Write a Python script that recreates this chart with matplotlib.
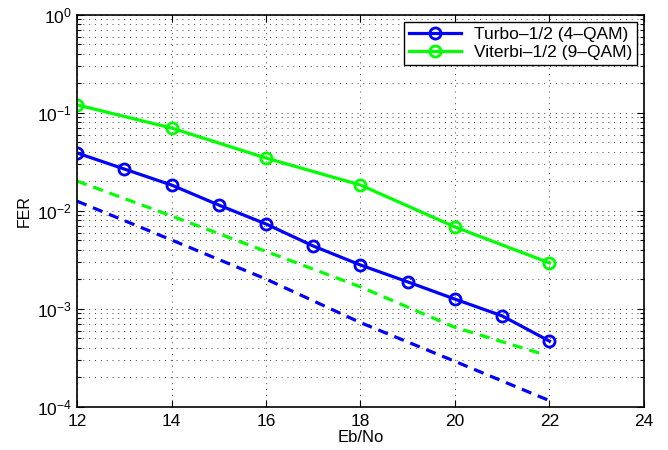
import matplotlib
matplotlib.use("Agg")
import matplotlib.pyplot as plt
from matplotlib.ticker import LogLocator, NullFormatter, FixedLocator

plt.rcParams['font.family'] = ['Liberation Sans', 'DejaVu Sans']
plt.rcParams['mathtext.fontset'] = 'custom'
plt.rcParams['mathtext.rm'] = 'Liberation Sans'

# Data
turbo_x = [12, 13, 14, 15, 16, 17, 18, 19, 20, 21, 22]
turbo_fer = [0.0391, 0.0268, 0.0184, 0.0115, 0.00737, 0.00439, 0.00281,
             0.00189, 0.00126, 0.00085, 0.00047]
viterbi_x = [12, 14, 16, 18, 20, 22]
viterbi_fer = [0.121, 0.0703, 0.0347, 0.0184, 0.00687, 0.00295]
turbo_bound_x = [12, 14, 16, 18, 20, 22]
turbo_bound = [0.0126, 0.00506, 0.00202, 0.000726, 0.000292, 0.000116]
viterbi_bound_x = [12, 14, 16, 18, 20, 21.85]
viterbi_bound = [0.0202, 0.0089, 0.00387, 0.00168, 0.00065, 0.000347]
x_ticks = [12, 14, 16, 18, 20, 22, 24]
labels = ['Turbo\u20131/2 (4\u2013QAM)', 'Viterbi\u20131/2 (9\u2013QAM)']

fig = plt.figure(figsize=(6.68, 4.5), dpi=100)
ax = fig.add_axes([0.1153, 0.0956, 0.8487, 0.8711])

lw = 2.3
ax.semilogy(turbo_x, turbo_fer, '-o', color=(0, 0, 1), lw=lw, ms=8,
            mfc='none', mew=2, label=labels[0])
ax.semilogy(viterbi_x, viterbi_fer, '-o', color=(0, 1, 0), lw=lw, ms=8,
            mfc='none', mew=2, label=labels[1])
ax.semilogy(turbo_bound_x, turbo_bound, '--', color=(0, 0, 1), lw=lw,
            dashes=(3.2, 2.2))
ax.semilogy(viterbi_bound_x, viterbi_bound, '--', color=(0, 1, 0), lw=lw,
            dashes=(3.2, 2.2))

ax.set_xlim(12, 24)
ax.set_ylim(1e-4, 1)
ax.xaxis.set_major_locator(FixedLocator(x_ticks))
ax.set_xticklabels([str(t) for t in x_ticks])
ax.yaxis.set_major_locator(LogLocator(base=10, numticks=10))
ax.yaxis.set_minor_locator(LogLocator(base=10, subs=range(2, 10), numticks=10))
ax.yaxis.set_minor_formatter(NullFormatter())

gstyle = dict(linestyle=(0, (1, 5)), color='#444444', lw=0.7)
ax.grid(True, which='major', axis='both', **gstyle)
ax.grid(True, which='minor', axis='y', **gstyle)

ax.tick_params(which='both', direction='in', top=True, right=True, labelsize=12.5)
ax.tick_params(which='major', length=5, width=0.8)
ax.tick_params(which='minor', length=3, width=0.8)
ax.tick_params(axis='x', pad=5)
for s in ax.spines.values():
    s.set_linewidth(1.2)

ax.set_xlabel('Eb/No', fontsize=12, labelpad=1)
ax.set_ylabel('FER', fontsize=11.5, labelpad=4)

leg = ax.legend(loc='upper right', fontsize=12.5, fancybox=False, framealpha=1,
                edgecolor='black', borderpad=0.3, handlelength=3.0,
                labelspacing=0.15, borderaxespad=0.4, handletextpad=0.7)
leg.get_frame().set_linewidth(1.0)

fig.savefig('out.png', dpi=100)
